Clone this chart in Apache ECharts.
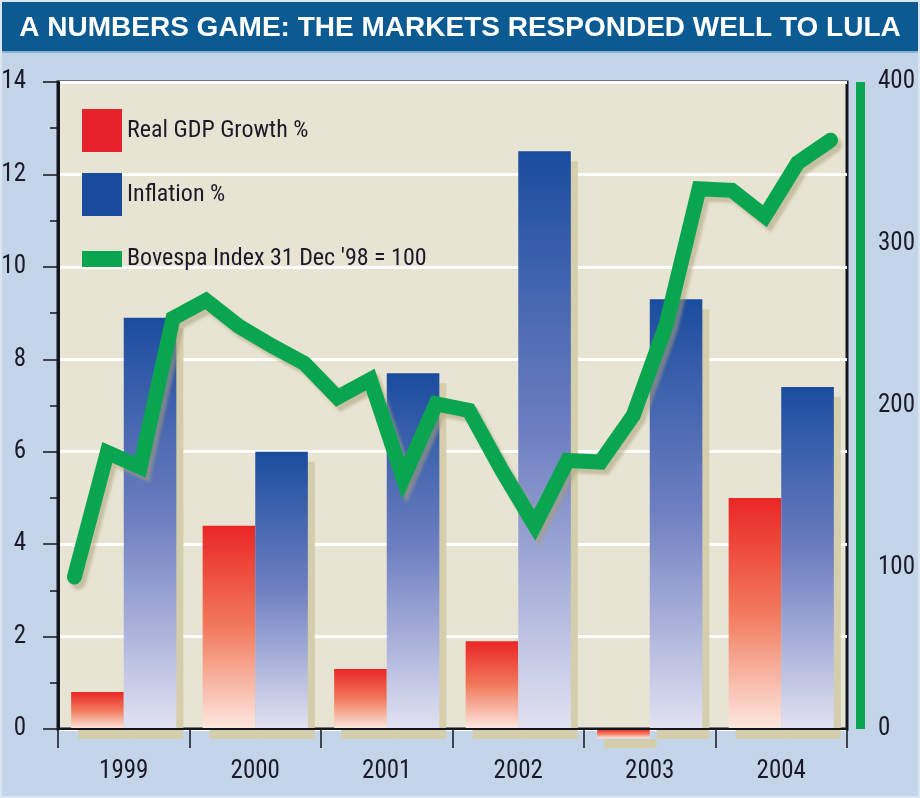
<!DOCTYPE html>
<html>
<head>
<meta charset="utf-8">
<script src="https://cdn.jsdelivr.net/npm/echarts@6/dist/echarts.min.js"></script>
<style>
html,body{margin:0;padding:0;background:#c4d4e9;}
#chart{width:920px;height:798px;}
</style>
</head>
<body>
<div id="chart"></div>
<script>
var years = ['1999', '2000', '2001', '2002', '2003', '2004'];
var gdpGrowth = [0.8, 4.4, 1.3, 1.9, -0.2, 5.0];
var inflation = [8.9, 6.0, 7.7, 12.5, 9.3, 7.4];
var quarters = ['Q1 1999','Q2 1999','Q3 1999','Q4 1999','Q1 2000','Q2 2000','Q3 2000','Q4 2000',
  'Q1 2001','Q2 2001','Q3 2001','Q4 2001','Q1 2002','Q2 2002','Q3 2002','Q4 2002',
  'Q1 2003','Q2 2003','Q3 2003','Q4 2003','Q1 2004','Q2 2004','Q3 2004','Q4 2004'];
var bovespa = [94, 171, 162, 254, 265, 249, 237, 226, 205, 216, 155, 201,
  197, 160, 126, 166, 165, 194, 250, 334, 333, 317, 350, 364];
var leftTicks = {min: 0, max: 14, interval: 2};
var rightTicks = {min: 0, max: 400, interval: 100};

var titleText = 'A NUMBERS GAME: THE MARKETS RESPONDED WELL TO LULA';
var gdpName = 'Real GDP Growth %';
var inflName = 'Inflation %';
var bovName = "Bovespa Index 31 Dec '98 = 100";

var NARROW = "'Roboto Condensed', 'Liberation Sans Narrow', 'DejaVu Sans Condensed', sans-serif";
var TXT = '#1a1a28';

var chart = echarts.init(document.getElementById('chart'), null, {renderer: 'canvas'});

function grad(stops) {
  return new echarts.graphic.LinearGradient(0, 0, 0, 1, stops);
}

var option = {
  backgroundColor: '#c4d4e9',
  animation: false,
  graphic: [
    {type: 'rect', shape: {x: 0, y: 0, width: 920, height: 51}, style: {fill: '#0b5a92'}, z: -10},
    {type: 'rect', shape: {x: 0, y: 51, width: 920, height: 2}, style: {fill: '#8fb3d6'}, z: -10},
    {type: 'rect', shape: {x: 1, y: 1, width: 918, height: 796}, style: {fill: null, stroke: '#dbe6f2', lineWidth: 2}, z: -9}
  ],
  title: {
    text: titleText,
    left: 'center',
    top: 9,
    textStyle: {color: '#ffffff', fontSize: 28, fontWeight: 'bold', fontFamily: "'Liberation Sans', Arial, sans-serif"}
  },
  legend: [
    {
      left: 77, top: 104, orient: 'vertical',
      itemWidth: 40, itemHeight: 43, itemGap: 21,
      selectedMode: false,
      textStyle: {fontSize: 24, color: TXT, fontFamily: NARROW},
      data: [
        {name: gdpName, icon: 'rect', itemStyle: {color: '#e8222a'}},
        {name: inflName, icon: 'rect', itemStyle: {color: '#1a4c9e'}}
      ]
    },
    {
      left: 77, top: 242, orient: 'vertical',
      itemWidth: 40, itemHeight: 16,
      selectedMode: false,
      textStyle: {fontSize: 24, color: TXT, fontFamily: NARROW},
      data: [
        {name: bovName, icon: 'rect', itemStyle: {color: '#0aa64f', borderWidth: 0}}
      ]
    }
  ],
  grid: {
    left: 58, right: 73, top: 82, bottom: 69,
    containLabel: false, outerBoundsMode: 'none',
    show: true, backgroundColor: '#e8e4d3', borderColor: '#15151f', borderWidth: 3
  },
  xAxis: [
    {
      type: 'category', data: years, z: 3,
      axisLine: {lineStyle: {color: '#15151f', width: 2}},
      axisTick: {show: true, length: 19, lineStyle: {color: '#15151f', width: 1.5}},
      axisLabel: {margin: 30, fontSize: 25, color: TXT, fontFamily: NARROW}
    },
    {
      type: 'category', data: quarters, show: false, boundaryGap: true
    }
  ],
  yAxis: [
    {
      type: 'value', min: leftTicks.min, max: leftTicks.max, interval: leftTicks.interval,
      axisLine: {show: true, lineStyle: {color: '#15151f', width: 3}},
      axisTick: {show: true, length: 15, lineStyle: {color: '#15151f', width: 1.5}},
      minorTick: {show: true, splitNumber: 2, length: 8, lineStyle: {color: '#15151f', width: 1.5}},
      axisLabel: {margin: 32, fontSize: 25, color: TXT, fontFamily: NARROW},
      splitLine: {show: true, lineStyle: {color: '#ffffff', width: 3}}
    },
    {
      type: 'value', position: 'right', offset: 13,
      min: rightTicks.min, max: rightTicks.max, interval: rightTicks.interval,
      axisLine: {show: true, lineStyle: {color: '#0aa64f', width: 9, cap: 'butt'}},
      axisTick: {show: false},
      axisLabel: {margin: 18, fontSize: 25, color: TXT, fontFamily: NARROW},
      splitLine: {show: false}
    }
  ],
  series: [
    {
      name: gdpName, type: 'bar', data: gdpGrowth,
      xAxisIndex: 0, yAxisIndex: 0,
      barGap: '0%', barCategoryGap: '20%', clip: false,
      itemStyle: {
        color: grad([{offset: 0, color: '#ea2626'}, {offset: 0.5, color: '#f27a5c'}, {offset: 1, color: '#fde8e0'}]),
        shadowColor: '#d4ceac', shadowOffsetX: 7, shadowOffsetY: 10, shadowBlur: 0
      }
    },
    {
      name: inflName, type: 'bar', data: inflation,
      xAxisIndex: 0, yAxisIndex: 0,
      barGap: '0%', barCategoryGap: '20%', clip: false,
      itemStyle: {
        color: grad([{offset: 0, color: '#1a4c9e'}, {offset: 0.5, color: '#7080c2'}, {offset: 1, color: '#e2e2f2'}]),
        shadowColor: '#d4ceac', shadowOffsetX: 7, shadowOffsetY: 10, shadowBlur: 0
      }
    },
    {
      name: bovName, type: 'line', data: bovespa,
      xAxisIndex: 1, yAxisIndex: 1,
      symbol: 'none', color: '#0aa64f',
      lineStyle: {
        color: '#0aa64f', width: 15, cap: 'round', join: 'miter', miterLimit: 3,
        shadowColor: 'rgba(170,160,120,0.55)', shadowBlur: 3, shadowOffsetX: 4, shadowOffsetY: 5
      },
      z: 4
    }
  ]
};
chart.setOption(option);
</script>
</body>
</html>
